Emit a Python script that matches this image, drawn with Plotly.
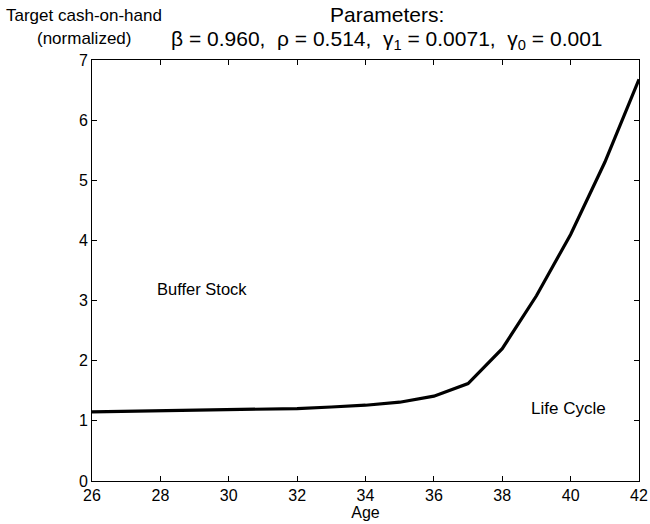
import plotly.graph_objects as go

ages = [26, 27, 28, 29, 30, 31, 32, 33, 34, 35, 36, 37, 38, 39, 40, 41, 42]
target_cash = [1.15, 1.16, 1.17, 1.175, 1.18, 1.19, 1.205, 1.23, 1.26, 1.31, 1.41, 1.62, 2.20, 3.08, 4.10, 5.30, 6.68]
x_ticks = [26, 28, 30, 32, 34, 36, 38, 40, 42]
y_ticks = [0, 1, 2, 3, 4, 5, 6, 7]

font = "Liberation Sans, Arial, sans-serif"

fig = go.Figure()
fig.add_trace(go.Scatter(x=ages, y=target_cash, mode="lines",
                         line=dict(color="black", width=3.2), showlegend=False))

fig.add_annotation(x=29.22, y=3.2, text="Buffer Stock", showarrow=False,
                   font=dict(size=16.5, color="black", family=font))
fig.add_annotation(x=39.94, y=1.21, text="Life Cycle", showarrow=False,
                   font=dict(size=17, color="black", family=font))

# y-axis caption (two lines, top-left)
fig.add_annotation(xref="paper", yref="paper", x=-0.0146, y=1.0, yshift=45,
                   xanchor="center", yanchor="middle",
                   text="Target cash-on-hand", showarrow=False,
                   font=dict(size=17, color="black", family=font))
fig.add_annotation(xref="paper", yref="paper", x=-0.0146, y=1.0, yshift=22,
                   xanchor="center", yanchor="middle",
                   text="(normalized)", showarrow=False,
                   font=dict(size=17, color="black", family=font))

# title (two lines)
fig.add_annotation(xref="paper", yref="paper", x=0.539, y=1.0, yshift=46,
                   xanchor="center", yanchor="middle",
                   text="Parameters:", showarrow=False,
                   font=dict(size=21, color="black", family=font))
fig.add_annotation(xref="paper", yref="paper", x=0.54, y=1.0, yshift=20,
                   xanchor="center", yanchor="middle",
                   text="β = 0.960,  ρ = 0.514,  γ<sub>1</sub> = 0.0071,  γ<sub>0</sub> = 0.001",
                   showarrow=False,
                   font=dict(size=21, color="black", family=font))

axis_common = dict(showline=True, linecolor="black", linewidth=1, mirror="ticks",
                   ticks="inside", ticklen=5, tickcolor="black", showgrid=False,
                   zeroline=False, automargin=False,
                   tickfont=dict(size=16, color="black", family=font))

fig.update_xaxes(range=[26, 42], tickvals=x_ticks,
                 title=dict(text="Age", font=dict(size=16, color="black", family=font), standoff=0),
                 **axis_common)
fig.update_yaxes(range=[0, 7], tickvals=y_ticks, **axis_common)

fig.update_layout(width=650, height=524, plot_bgcolor="white", paper_bgcolor="white",
                  margin=dict(l=92, r=11, t=60, b=43, autoexpand=False),
                  font=dict(family=font, color="black"))

fig.write_html("out.html", config={"displayModeBar": False},
               post_script="document.body.style.margin='0';document.body.style.overflow='hidden';")
